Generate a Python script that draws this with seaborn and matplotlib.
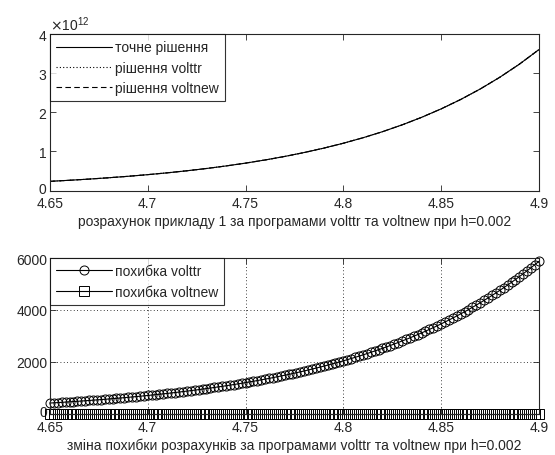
import numpy as np
import pandas as pd
import matplotlib
matplotlib.use("Agg")
import matplotlib.pyplot as plt
import matplotlib.transforms as mtransforms
import seaborn as sns
from matplotlib.ticker import ScalarFormatter, FixedLocator

# ---- data ----
# top panel: solution, sampled every 0.01
x_sol = [4.65, 4.66, 4.67, 4.68, 4.69, 4.70, 4.71, 4.72, 4.73, 4.74, 4.75, 4.76, 4.77,
         4.78, 4.79, 4.80, 4.81, 4.82, 4.83, 4.84, 4.85, 4.86, 4.87, 4.88, 4.89, 4.90]
exact_1e12 = [0.235, 0.2621, 0.2924, 0.3261, 0.3637, 0.4057, 0.4525, 0.5047, 0.5630,
              0.6279, 0.7004, 0.7812, 0.8713, 0.9719, 1.0840, 1.2091, 1.3486, 1.5042,
              1.6777, 1.8713, 2.0873, 2.3281, 2.5967, 2.8964, 3.2306, 3.6032]
sol_volttr_1e12 = exact_1e12
sol_voltnew_1e12 = exact_1e12

# bottom panel: errors, grid h = 0.002
h = 0.002
x_err = np.round(4.65 + h * np.arange(126), 3)
err_volttr = [420, 429, 438, 447, 457,
              467, 477, 487, 497, 508,
              519, 530, 541, 553, 564,
              576, 589, 601, 614, 627,
              641, 654, 668, 682, 697,
              712, 727, 743, 758, 775,
              791, 808, 825, 843, 861,
              879, 898, 917, 936, 956,
              977, 998, 1019, 1041, 1063,
              1085, 1109, 1132, 1156, 1181,
              1206, 1232, 1258, 1285, 1312,
              1341, 1369, 1398, 1428, 1459,
              1490, 1521, 1554, 1587, 1621,
              1655, 1691, 1727, 1764, 1801,
              1840, 1879, 1919, 1960, 2002,
              2044, 2088, 2132, 2178, 2224,
              2272, 2320, 2370, 2420, 2472,
              2525, 2578, 2633, 2690, 2747,
              2806, 2865, 2926, 2989, 3053,
              3118, 3184, 3252, 3321, 3392,
              3465, 3539, 3614, 3691, 3770,
              3850, 3932, 4016, 4102, 4189,
              4279, 4370, 4463, 4558, 4655,
              4755, 4856, 4960, 5065, 5173,
              5284, 5397, 5512, 5629, 5749,
              5872]
err_voltnew = [0.0] * len(err_volttr)

xticks = [4.65, 4.7, 4.75, 4.8, 4.85, 4.9]
xticklabels = ["4.65", "4.7", "4.75", "4.8", "4.85", "4.9"]

# ---- style ----
sns.set_style("ticks", {"xtick.direction": "in", "ytick.direction": "in"})
plt.rcParams["font.family"] = ["Liberation Sans", "DejaVu Sans"]
plt.rcParams["font.size"] = 10
plt.rcParams["axes.linewidth"] = 0.8
plt.rcParams["xtick.major.size"] = 4
plt.rcParams["ytick.major.size"] = 4
plt.rcParams["xtick.major.width"] = 0.6
plt.rcParams["ytick.major.width"] = 0.6

fig = plt.figure(figsize=(5.55, 4.56), dpi=100)
ax1 = fig.add_axes([0.090, 0.580, 0.881, 0.343])
ax2 = fig.add_axes([0.090, 0.090, 0.881, 0.342])

# ---- top panel ----
df_top = pd.DataFrame({
    "x": x_sol * 3,
    "y": [v * 1e12 for v in exact_1e12] + [v * 1e12 for v in sol_volttr_1e12]
         + [v * 1e12 for v in sol_voltnew_1e12],
    "s": ["точне рішення"] * len(x_sol) + ["рішення volttr"] * len(x_sol)
         + ["рішення voltnew"] * len(x_sol),
})
sns.lineplot(data=df_top, x="x", y="y", hue="s", style="s",
             palette=["black"] * 3,
             dashes=["", (1, 2), (5, 3)], linewidth=0.8, ax=ax1)
ax1.set_xlim(4.65, 4.9)
ax1.set_ylim(0, 4e12)
ax1.yaxis.set_major_locator(FixedLocator([0, 1e12, 2e12, 3e12, 4e12]))
fmt = ScalarFormatter(useMathText=True)
fmt.set_powerlimits((0, 0))
ax1.yaxis.set_major_formatter(fmt)
ax1.set_xticks(xticks)
ax1.set_xticklabels(xticklabels)
ax1.set_xlabel("розрахунок прикладу 1 за програмами volttr та voltnew при h=0.002",
               labelpad=3)
ax1.set_ylabel("")
ax1.tick_params(top=True, right=True)
ax1.tick_params(axis="y", pad=2)
ax1.tick_params(axis="x", pad=4)
leg1 = ax1.legend(loc="upper left", frameon=True, fancybox=False, edgecolor="black",
                  handlelength=4.0, borderaxespad=0, handletextpad=0.2,
                  labelspacing=0.45, borderpad=0.45)
leg1.get_frame().set_linewidth(0.8)

# ---- bottom panel ----
n = len(x_err)
df_bot = pd.DataFrame({
    "x": list(x_err) * 2,
    "y": list(err_volttr) + list(err_voltnew),
    "s": ["похибка volttr"] * n + ["похибка voltnew"] * n,
})
sns.lineplot(data=df_bot, x="x", y="y", hue="s", style="s",
             palette=["black", "black"], markers=["o", "s"], dashes=False,
             markersize=6.5, markerfacecolor="none", markeredgecolor="black",
             markeredgewidth=0.7, linewidth=0.8, ax=ax2, clip_on=False)
ax2.set_xlim(4.65, 4.9)
ax2.set_ylim(0, 6000)
ax2.set_yticks([0, 2000, 4000, 6000])
ax2.set_yticklabels(["0", "2000", "4000", "6000"])
ax2.set_xticks(xticks)
ax2.set_xticklabels(xticklabels)
ax2.grid(True, color="black", linestyle=(0, (1, 3)), linewidth=0.6)
ax2.set_xlabel("зміна похибки розрахунків за програмами volttr та voltnew при h=0.002",
               labelpad=3)
ax2.set_ylabel("")
ax2.tick_params(top=True, right=True)
ax2.tick_params(axis="y", pad=2)
ax2.tick_params(axis="x", pad=4)
for line in ax2.lines:
    line.set_markerfacecolor("none")
leg2 = ax2.legend(loc="upper left", frameon=True, fancybox=False, edgecolor="black",
                  handlelength=4.0, borderaxespad=0, handletextpad=0.2,
                  labelspacing=0.45, borderpad=0.45)
leg2.get_frame().set_linewidth(0.8)
for lh in leg2.get_lines():
    lh.set_markerfacecolor("none")

# nudge the "0" y labels up slightly so they don't collide with "4.65"
fig.canvas.draw()
for ax in (ax1, ax2):
    lbl0 = ax.get_yticklabels()[0]
    lbl0.set_transform(lbl0.get_transform()
                       + mtransforms.ScaledTranslation(0, 3 / 100, fig.dpi_scale_trans))

fig.savefig("out.png", dpi=100, facecolor="white")
